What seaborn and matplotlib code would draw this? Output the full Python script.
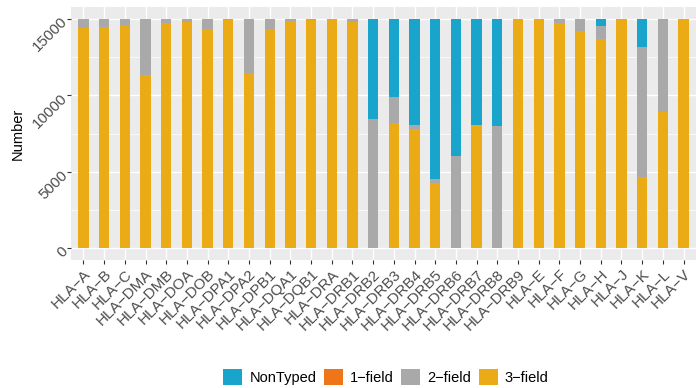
import matplotlib
matplotlib.use("Agg")
import matplotlib.pyplot as plt
from matplotlib.patches import Patch
import numpy as np
import pandas as pd
import seaborn as sns

genes = ["HLA-A", "HLA-B", "HLA-C", "HLA-DMA", "HLA-DMB", "HLA-DOA", "HLA-DOB",
         "HLA-DPA1", "HLA-DPA2", "HLA-DPB1", "HLA-DQA1", "HLA-DQB1", "HLA-DRA",
         "HLA-DRB1", "HLA-DRB2", "HLA-DRB3", "HLA-DRB4", "HLA-DRB5", "HLA-DRB6",
         "HLA-DRB7", "HLA-DRB8", "HLA-DRB9", "HLA-E", "HLA-F", "HLA-G", "HLA-H",
         "HLA-J", "HLA-K", "HLA-L", "HLA-V"]

total_samples = 15000

three_field = [14400, 14450, 14500, 11330, 14690, 14800, 14320, 14890, 11460, 14300,
               14840, 14910, 15000, 14760, 0, 8180, 7810, 4250, 0, 8030,
               0, 15000, 15000, 14690, 14190, 13670, 15000, 4690, 8920, 15000]
two_field = [600, 550, 500, 3670, 310, 200, 680, 110, 3540, 700,
             160, 90, 0, 240, 8420, 1720, 220, 310, 6010, 0,
             7990, 0, 0, 310, 810, 830, 0, 8460, 6080, 0]
one_field = [0] * len(genes)
non_typed = [total_samples - a - b - c for a, b, c in zip(three_field, two_field, one_field)]

categories = ["NonTyped", "1\u2212field", "2\u2212field", "3\u2212field"]
palette = {"NonTyped": "#19A5CB", "1\u2212field": "#EE7619",
           "2\u2212field": "#A9A9A9", "3\u2212field": "#EAAB17"}

df = pd.DataFrame({"gene": genes, "NonTyped": non_typed, "1-field": one_field,
                   "2-field": two_field, "3-field": three_field})
# cumulative heights, stacked with 3-field at the bottom
df["c3"] = df["3-field"]
df["c2"] = df["c3"] + df["2-field"]
df["c1"] = df["c2"] + df["1-field"]
df["c0"] = df["c1"] + df["NonTyped"]

plt.rcParams["font.family"] = ["Liberation Sans", "DejaVu Sans"]

fig = plt.figure(figsize=(6.96, 3.88), dpi=100)
ax = fig.add_axes([71 / 696, 1 - 260 / 388, 1 - 71 / 696, 253 / 388])
ax.set_facecolor("#EBEBEB")

for col, cat in zip(["c0", "c1", "c2", "c3"], categories):
    sns.barplot(data=df, x="gene", y=col, color=palette[cat], width=0.5,
                saturation=1, ax=ax, zorder=3, linewidth=0)

ax.set_xlim(-0.6, len(genes) - 0.4)
ax.set_ylim(-750, 15750)
ax.set_yticks([0, 5000, 10000, 15000])
ax.set_yticks([2500, 7500, 12500], minor=True)
ax.set_xticks(range(len(genes)))
ax.set_xticklabels([g.replace("-", "\u2212") for g in genes], rotation=45,
                   ha="right", rotation_mode="anchor", fontsize=11, color="#4D4D4D")
ax.set_yticklabels(["0", "5000", "10000", "15000"], rotation=45, ha="right",
                   rotation_mode="anchor", fontsize=11, color="#4D4D4D")

ax.grid(True, which="major", color="white", linewidth=1.0, zorder=0)
ax.grid(True, which="minor", axis="y", color="white", linewidth=0.5, zorder=0)
ax.set_axisbelow(True)
ax.tick_params(axis="both", which="major", length=3, color="#333333", width=0.8)
ax.tick_params(axis="y", which="minor", length=0)
ax.tick_params(axis="x", pad=2)
ax.tick_params(axis="y", pad=2)
for s in ax.spines.values():
    s.set_visible(False)

ax.set_xlabel("")
ax.set_ylabel("Number", fontsize=10.5, color="black", labelpad=4)

handles = [Patch(facecolor=palette[c], edgecolor="none", label=c) for c in categories]
fig.legend(handles=handles, loc="center", bbox_to_anchor=(386 / 696, 1 - 377 / 388),
           ncol=4, frameon=False, fontsize=10.5, handlelength=1.3, handleheight=1.3,
           handletextpad=0.5, columnspacing=0.5)

fig.savefig("out.png", dpi=100)
